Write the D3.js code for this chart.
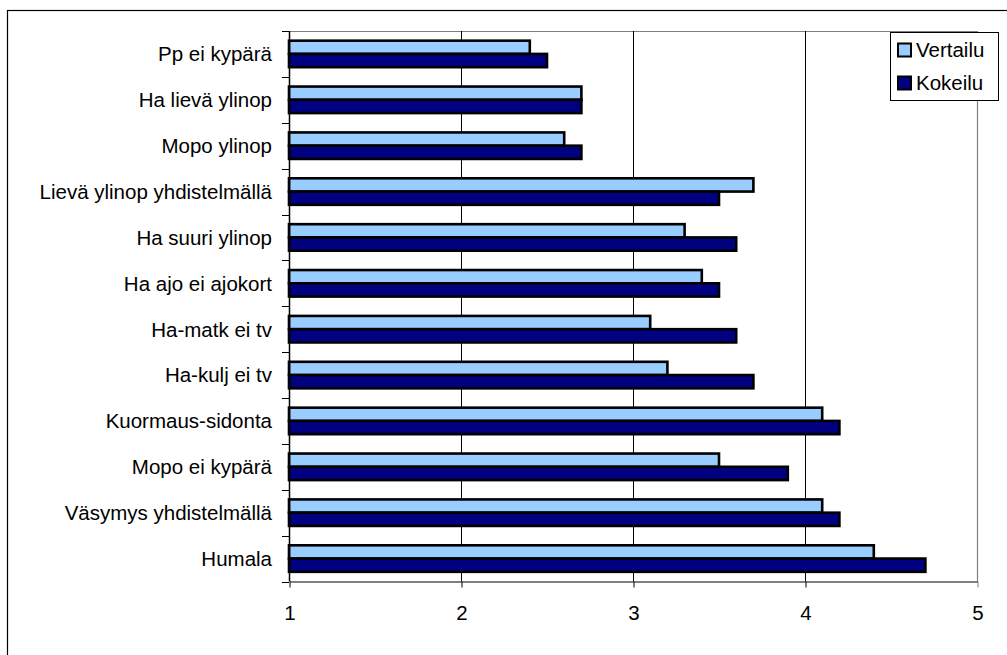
<!DOCTYPE html>
<html>
<head>
<meta charset="utf-8">
<script src="https://cdn.jsdelivr.net/npm/d3@7"></script>
<style>
  html, body { margin: 0; padding: 0; background: #fff; }
  svg { display: block; font-family: Arial, "Liberation Sans", sans-serif; }
</style>
</head>
<body>
<svg id="chart" width="1007" height="655"></svg>
<script>
// Categories, listed from top to bottom
const categories = [
  "Pp ei kypärä",
  "Ha lievä ylinop",
  "Mopo ylinop",
  "Lievä ylinop yhdistelmällä",
  "Ha suuri ylinop",
  "Ha ajo ei ajokort",
  "Ha-matk ei tv",
  "Ha-kulj ei tv",
  "Kuormaus-sidonta",
  "Mopo ei kypärä",
  "Väsymys yhdistelmällä",
  "Humala"
];
const seriesNames = ["Vertailu", "Kokeilu"];
const vertailu = [2.4, 2.7, 2.6, 3.7, 3.3, 3.4, 3.1, 3.2, 4.1, 3.5, 4.1, 4.4];
const kokeilu  = [2.5, 2.7, 2.7, 3.5, 3.6, 3.5, 3.6, 3.7, 4.2, 3.9, 4.2, 4.7];
const xTicks = [1, 2, 3, 4, 5];
const colors = { Vertailu: "#99CCFF", Kokeilu: "#000080" };

const svg = d3.select("#chart");

// Outer frame of the chart area
svg.append("rect")
  .attr("x", 7.5).attr("y", 10.5)
  .attr("width", 1100).attr("height", 1000)
  .attr("fill", "none").attr("stroke", "#000").attr("stroke-width", 1.2);

const plot = { left: 289, right: 977, top: 31, bottom: 581.5 };

const x = d3.scaleLinear().domain([1, 5]).range([plot.left, plot.right]);
const y = d3.scaleBand().domain(categories).range([plot.top, plot.bottom]).paddingInner(0).paddingOuter(0);
const y1 = d3.scaleBand().domain(seriesNames).range([0, y.bandwidth()]).paddingInner(0).paddingOuter(0.73);

// Plot border: grey top and right
svg.append("path")
  .attr("d", `M${plot.left},${plot.top + 0.5}H${plot.right + 0.5}V${plot.bottom}`)
  .attr("fill", "none").attr("stroke", "#808080").attr("stroke-width", 1.2);

// Vertical gridlines
svg.append("g")
  .selectAll("line")
  .data(xTicks.filter(t => t > 1 && t < 5))
  .join("line")
  .attr("x1", d => Math.round(x(d)) + 0.5).attr("x2", d => Math.round(x(d)) + 0.5)
  .attr("y1", plot.top).attr("y2", plot.bottom)
  .attr("stroke", "#000").attr("stroke-width", 1);

// Bars
const rows = categories.map((c, i) => ({ cat: c, Vertailu: vertailu[i], Kokeilu: kokeilu[i] }));
const groups = svg.append("g")
  .selectAll("g")
  .data(rows)
  .join("g")
  .attr("transform", d => `translate(0,${y(d.cat)})`);

groups.selectAll("rect")
  .data(d => seriesNames.map(s => ({ s, v: d[s] })))
  .join("rect")
  .attr("x", x(1))
  .attr("y", d => y1(d.s))
  .attr("width", d => x(d.v) - x(1))
  .attr("height", y1.bandwidth())
  .attr("fill", d => colors[d.s])
  .attr("stroke", "#000")
  .attr("stroke-width", 2.6);

// Bottom axis
const xAxis = d3.axisBottom(x).tickValues(xTicks).tickFormat(d3.format("d")).tickSizeInner(6).tickSizeOuter(0).tickPadding(18);
const gx = svg.append("g").attr("transform", `translate(0.5,${plot.bottom})`).call(xAxis);
gx.select(".domain").attr("stroke", "#555").attr("stroke-width", 1.5);
gx.selectAll(".tick line").attr("stroke", (d) => d === 5 ? "#808080" : "#000");
gx.selectAll(".tick text").attr("font-size", 20.5).attr("fill", "#000")
  .attr("font-family", "Arial, 'Liberation Sans', sans-serif");

// Left axis: ticks on band boundaries, labels centred on bands
const gy = svg.append("g");
gy.append("line")
  .attr("x1", plot.left + 0.5).attr("x2", plot.left + 0.5)
  .attr("y1", plot.top).attr("y2", plot.bottom)
  .attr("stroke", "#000").attr("stroke-width", 1.5);
const boundaries = categories.map(c => y(c)).concat([plot.bottom]);
gy.selectAll("line.tk")
  .data(boundaries)
  .join("line")
  .attr("class", "tk")
  .attr("x1", plot.left - 7).attr("x2", plot.left)
  .attr("y1", d => Math.round(d) + 0.5).attr("y2", d => Math.round(d) + 0.5)
  .attr("stroke", "#000").attr("stroke-width", 1);
gy.selectAll("text")
  .data(categories)
  .join("text")
  .attr("x", plot.left - 17)
  .attr("y", d => y(d) + y.bandwidth() / 2)
  .attr("dy", "0.36em")
  .attr("text-anchor", "end")
  .attr("font-size", 20.5)
  .attr("fill", "#000")
  .text(d => d);

// Legend
const legend = svg.append("g");
legend.append("rect")
  .attr("x", 890.5).attr("y", 32.5).attr("width", 108).attr("height", 68)
  .attr("fill", "#fff").attr("stroke", "#000").attr("stroke-width", 1);
const items = legend.selectAll("g.item")
  .data(seriesNames)
  .join("g")
  .attr("class", "item")
  .attr("transform", (d, i) => `translate(0,${50 + i * 33})`);
items.append("rect")
  .attr("x", 898).attr("y", -6.5).attr("width", 13).attr("height", 13)
  .attr("fill", d => colors[d]).attr("stroke", "#000").attr("stroke-width", 2);
items.append("text")
  .attr("x", 916).attr("y", 0).attr("dy", "0.36em")
  .attr("font-size", 20.5).attr("fill", "#000")
  .text(d => d);
</script>
</body>
</html>
